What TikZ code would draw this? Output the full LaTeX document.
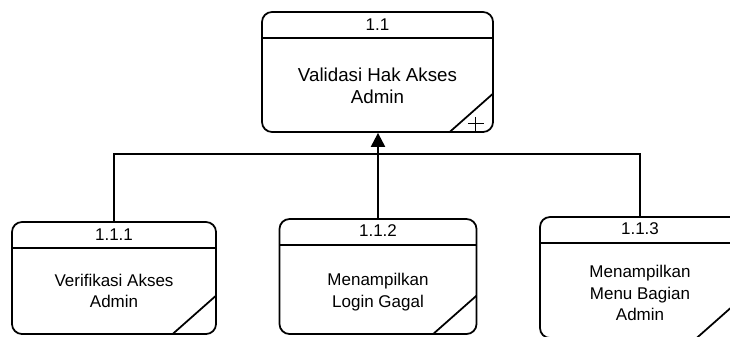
\documentclass[tikz,border=0pt]{standalone}
\usepackage{fontspec}
\setmainfont{Liberation Sans}
\usepackage{tikz}
\usetikzlibrary{positioning, arrows.meta, calc}

\begin{document}
\begin{tikzpicture}[
        x=0.03cm, y=-0.03cm,
        proc/.style={rectangle, rounded corners=0.3cm, draw=black, line width=1.5pt,
            path picture={
                \draw[line width=1.5pt] ([yshift=-0.78cm]path picture bounding box.north west)
                    -- ([yshift=-0.78cm]path picture bounding box.north east);
                \draw[line width=1.5pt] ([xshift=-1.3cm]path picture bounding box.south east)
                    -- ([yshift=1.15cm]path picture bounding box.south east);
            }},
        num/.style={font=\fontsize{14.5}{16}\selectfont, inner sep=0pt},
        txt/.style={font=\fontsize{14.5}{18.5}\selectfont, align=center, inner sep=0pt},
        conn/.style={draw=black, line width=1.7pt},
    ]
    \useasboundingbox (0,0) rectangle (730,336);

    % Parent process
    \node[proc, minimum width=6.93cm, minimum height=3.6cm] (p11) at (377.5,72) {};
    \node[num] (n11) at (377.5,25) {1.1};
    \node[txt, font=\fontsize{16}{19}\selectfont] (t11) at (377.5,86) {Validasi Hak Akses\\Admin};
    \draw[line width=0.8pt] ($(p11.south east)+(-26,-9)$) -- ($(p11.south east)+(-10,-9)$)
        ($(p11.south east)+(-18,-16)$) -- ($(p11.south east)+(-18,-2)$);

    % Child processes
    \node[proc, minimum width=6.12cm, minimum height=3.36cm] (p111) at (114,278) {};
    \node[num] (n111) at (114,235) {1.1.1};
    \node[txt] (t111) at (114,291) {Verifikasi Akses\\Admin};

    \node[proc, minimum width=5.91cm, minimum height=3.45cm] (p112) at (378,276.5) {};
    \node[num] (n112) at (378,231) {1.1.2};
    \node[txt] (t112) at (378,292) {Menampilkan\\Login Gagal};

    \node[proc, minimum width=6cm, minimum height=3.63cm] (p113) at (640,277.5) {};
    \node[num] (n113) at (640,229) {1.1.3};
    \node[txt] (t113) at (640,293) {Menampilkan\\Menu Bagian\\Admin};

    % Connectors
    \coordinate (bus) at (378,154);
    \draw[conn] (p111.north) |- (bus) -| (p113.north);
    \draw[conn, -{Triangle[length=0.42cm, width=0.42cm]}] (p112.north) -- (p112.north |- p11.south);
\end{tikzpicture}
\end{document}
